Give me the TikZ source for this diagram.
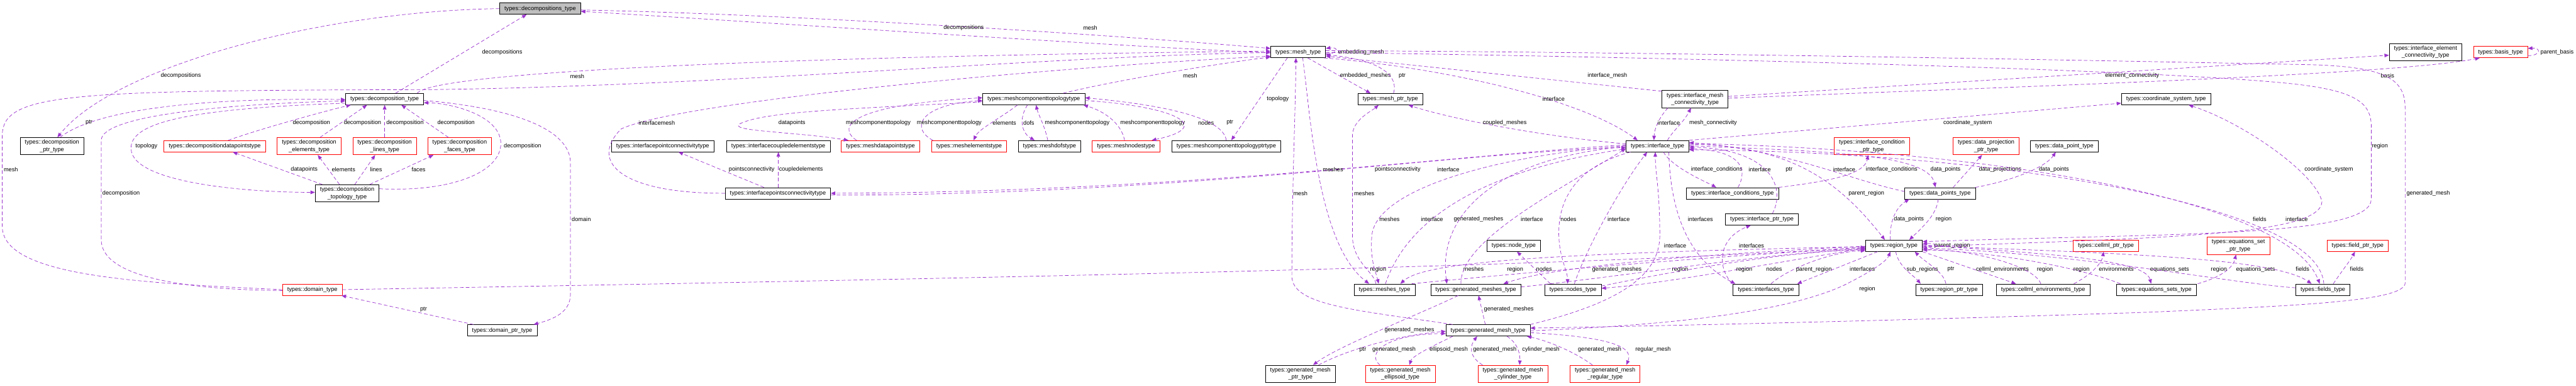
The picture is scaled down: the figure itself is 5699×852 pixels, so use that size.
\documentclass[tikz,border=0pt]{standalone}
\usepackage{fontspec}
\setmainfont{Liberation Sans}
\usetikzlibrary{arrows.meta}
\definecolor{relcol}{RGB}{154,50,205}
\newcommand{\clsfont}{\fontsize{12.8}{16}\selectfont}
\tikzset{
  cls/.style   = {rectangle, draw=black, line width=1pt, fill=white, font=\clsfont,
                  align=center, inner xsep=10.5pt, inner ysep=5pt, minimum height=25pt},
  undoc/.style = {draw=red},
  root/.style  = {fill=black!25},
  rel/.style   = {draw=relcol, line width=1pt, dash pattern=on 8pt off 5pt,
                  -{Triangle[length=10pt,width=8pt]}},
  lbl/.style   = {font=\clsfont, inner sep=0pt},
}

\begin{document}
\begin{tikzpicture}[x=1pt,y=-1pt]
  \useasboundingbox (0,0) rectangle (5699,852);

  % row 1
  \node[cls,root] (dcs) at (1195,19) {types::decompositions\_type};
  \node[cls] (mesh) at (2872,115) {types::mesh\_type};
  \node[cls] (iec) at (5366,115) {types::interface\_element\\\_connectivity\_type};
  \node[cls,undoc] (basis) at (5532,115) {types::basis\_type};
  % row 2
  \node[cls] (dcmp) at (851,219) {types::decomposition\_type};
  \node[cls] (mctt) at (2287,219) {types::meshcomponenttopologytype};
  \node[cls] (mptr) at (3076,219) {types::mesh\_ptr\_type};
  \node[cls] (imc) at (3750,219) {types::interface\_mesh\\\_connectivity\_type};
  \node[cls] (csys) at (4792,219) {types::coordinate\_system\_type};
  % row 3
  \node[cls] (dptr) at (115,323) {types::decomposition\\\_ptr\_type};
  \node[cls,undoc] (ddp) at (475,323) {types::decompositiondatapointstype};
  \node[cls,undoc] (del) at (684,323) {types::decomposition\\\_elements\_type};
  \node[cls,undoc] (dli) at (851,323) {types::decomposition\\\_lines\_type};
  \node[cls,undoc] (dfa) at (1017,323) {types::decomposition\\\_faces\_type};
  \node[cls] (ipc) at (1466,323) {types::interfacepointconnectivitytype};
  \node[cls] (ice) at (1722,323) {types::interfacecoupledelementstype};
  \node[cls,undoc] (mdp) at (1948,323) {types::meshdatapointstype};
  \node[cls,undoc] (mel) at (2144,323) {types::meshelementstype};
  \node[cls] (mdof) at (2322,323) {types::meshdofstype};
  \node[cls,undoc] (mnod) at (2491,323) {types::meshnodestype};
  \node[cls] (mcptr) at (2713,323) {types::meshcomponenttopologyptrtype};
  \node[cls] (iface) at (3667,323) {types::interface\_type};
  \node[cls,undoc] (icptr) at (4141,323) {types::interface\_condition\\\_ptr\_type};
  \node[cls,undoc] (dprj) at (4394,323) {types::data\_projection\\\_ptr\_type};
  \node[cls] (dpt) at (4567,323) {types::data\_point\_type};
  % row 4
  \node[cls] (dtop) at (768,427) {types::decomposition\\\_topology\_type};
  \node[cls] (ipts) at (1721,427) {types::interfacepointsconnectivitytype};
  \node[cls] (iconds) at (3833,427) {types::interface\_conditions\_type};
  \node[cls] (dpts) at (4292,427) {types::data\_points\_type};
  \node[cls] (iptr) at (3898,485) {types::interface\_ptr\_type};
  % row 5
  \node[cls] (node) at (3349,543) {types::node\_type};
  \node[cls] (region) at (4190,543) {types::region\_type};
  \node[cls,undoc] (cptr) at (4659,543) {types::cellml\_ptr\_type};
  \node[cls,undoc] (esptr) at (4952,543) {types::equations\_set\\\_ptr\_type};
  \node[cls,undoc] (fptr) at (5216,543) {types::field\_ptr\_type};
  % row 6
  \node[cls,undoc] (domain) at (691,640) {types::domain\_type};
  \node[cls] (meshes) at (3063,640) {types::meshes\_type};
  \node[cls] (gmeshes) at (3265,640) {types::generated\_meshes\_type};
  \node[cls] (nodes) at (3480,640) {types::nodes\_type};
  \node[cls] (ifaces) at (3907,640) {types::interfaces\_type};
  \node[cls] (rptr) at (4312,640) {types::region\_ptr\_type};
  \node[cls] (cenv) at (4520,640) {types::cellml\_environments\_type};
  \node[cls] (esets) at (4771,640) {types::equations\_sets\_type};
  \node[cls] (fields) at (5139,640) {types::fields\_type};
  % row 7, 8
  \node[cls] (domptr) at (1111,730) {types::domain\_ptr\_type};
  \node[cls] (gmesh) at (3292,730) {types::generated\_mesh\_type};
  \node[cls] (gmptr) at (2877,826) {types::generated\_mesh\\\_ptr\_type};
  \node[cls,undoc] (gell) at (3098,826) {types::generated\_mesh\\\_ellipsoid\_type};
  \node[cls,undoc] (gcyl) at (3347,826) {types::generated\_mesh\\\_cylinder\_type};
  \node[cls,undoc] (greg) at (3551,826) {types::generated\_mesh\\\_regular\_type};

  % decompositions
  \draw[rel] (dcs.west) .. controls (700,25) and (250,150) .. ([xshift=12pt]dptr.north)
    node[lbl,at={(400,167)}] {decompositions};
  \draw[rel] ([yshift=-3pt]dcs.east) .. controls (1700,30) and (2400,72) .. ([yshift=8pt]mesh.west)
    node[lbl,at={(2412,62)}] {mesh};
  \draw[rel] ([yshift=-2pt]mesh.west) .. controls (2400,98) and (1700,50) .. ([yshift=-6pt]dcs.east)
    node[lbl,at={(2132,62)}] {decompositions};
  \draw[rel] ([xshift=18pt]dptr.north) .. controls (200,250) and (400,215) .. ([yshift=-1pt]dcmp.west)
    node[lbl,at={(197,271)}] {ptr};
  \draw[rel] ([xshift=24pt]dcmp.north) -- ([xshift=-30pt]dcs.south)
    node[lbl,at={(1111,115)}] {decompositions};
  \draw[rel] ([xshift=72pt]dcmp.north) .. controls (960,160) and (1700,125) .. ([yshift=2pt]mesh.west)
    node[lbl,at={(1277,168)}] {mesh};
  \draw[rel] (domain.west) .. controls (300,625) and (5,610) .. (5,500) -- (5,300)
    .. controls (5,205) and (150,200) .. (950,198) .. controls (1600,190) and (2300,125) .. ([yshift=-1pt]mesh.west)
    node[lbl,at={(24,375)}] {mesh};
  \draw[rel] ([yshift=-2pt]domain.west) .. controls (400,640) and (224,610) .. (224,530) -- (224,310)
    .. controls (224,255) and (500,230) .. ([yshift=-4pt]dcmp.west)
    node[lbl,at={(268,427)}] {decomposition};
  \draw[rel] ([yshift=-9pt]dcmp.west) .. controls (420,240) and (285,270) .. (290,330)
    .. controls (295,405) and (550,425) .. ([yshift=2pt]dtop.west)
    node[lbl,at={(324,323)}] {topology};

  % decomposition topology
  \draw[rel] ([xshift=-55pt]dtop.north) -- ([xshift=40pt]ddp.south)
    node[lbl,at={(673,375)}] {datapoints};
  \draw[rel] ([xshift=-17pt]dtop.north) -- ([xshift=19pt]del.south)
    node[lbl,at={(760,375)}] {elements};
  \draw[rel] ([xshift=17pt]dtop.north) -- ([xshift=-21pt]dli.south)
    node[lbl,at={(832,375)}] {lines};
  \draw[rel] ([xshift=50pt]dtop.north) -- ([xshift=-58pt]dfa.south)
    node[lbl,at={(926,375)}] {faces};
  \draw[rel] ([xshift=30pt]ddp.north) .. controls (560,290) and (700,250) .. ([xshift=-75pt]dcmp.south)
    node[lbl,at={(689,271)}] {decomposition};
  \draw[rel] ([xshift=24pt]del.north) -- ([xshift=-39pt]dcmp.south)
    node[lbl,at={(802,271)}] {decomposition};
  \draw[rel] (dli.north) -- (dcmp.south)
    node[lbl,at={(896,271)}] {decomposition};
  \draw[rel] ([xshift=-25pt]dfa.north) -- ([xshift=37pt]dcmp.south)
    node[lbl,at={(1009,271)}] {decomposition};
  \draw[rel] ([yshift=10pt]dtop.east) .. controls (1000,425) and (1110,380) .. (1108,315)
    .. controls (1105,255) and (1000,228) .. ([yshift=-8pt]dcmp.east)
    node[lbl,at={(1156,323)}] {decomposition};
  \draw[rel] ([yshift=-3pt]dcmp.east) .. controls (1150,240) and (1262,290) .. (1262,360) -- (1262,650)
    .. controls (1262,690) and (1225,705) .. ([xshift=-8pt]domptr.north east)
    node[lbl,at={(1286,485)}] {domain};
  \draw[rel] ([xshift=14pt]domptr.north west) -- ([xshift=-2pt]domain.south east)
    node[lbl,at={(937,684)}] {ptr};
  \draw[rel] (domain.east) .. controls (2000,618) and (3500,590) .. ([yshift=-3pt]region.west)
    node[lbl,at={(3049,595)}] {region};

  % interface points
  \draw[rel] (ipts.west) .. controls (1380,428) and (1300,360) .. (1374,285)
    .. controls (1500,225) and (2300,150) .. ([yshift=-9pt]mesh.west)
    node[lbl,at={(1453,271)}] {interfacemesh};
  \draw[rel] ([xshift=-31pt]ipts.north) -- ([xshift=35pt]ipc.south)
    node[lbl,at={(1663,375)}] {pointsconnectivity};
  \draw[rel] ([xshift=1pt]ipts.north) -- (ice.south)
    node[lbl,at={(1772,375)}] {coupledelements};
  \draw[rel] ([yshift=3pt]iface.west) .. controls (3200,345) and (2600,425) .. (ipts.east)
    node[lbl,at={(3092,375)}] {pointsconnectivity};
  \draw[rel] ([yshift=-4pt]ipts.east) .. controls (2600,432) and (3250,335) .. ([yshift=-3pt]iface.west)
    node[lbl,at={(3204,375)}] {interface};

  % mesh component topology
  \draw[rel] ([xshift=65pt]mctt.north) .. controls (2480,175) and (2700,140) .. ([yshift=-11pt]mesh.west)
    node[lbl,at={(2633,167)}] {mesh};
  \draw[rel] ([xshift=-24pt]mesh.south) -- ([xshift=11pt]mcptr.north)
    node[lbl,at={(2827,219)}] {topology};
  \draw[rel] ([yshift=-6pt]mctt.west) .. controls (1900,240) and (1700,245) .. (1640,272)
    .. controls (1600,290) and (1750,290) .. ([xshift=-71pt]mdp.north)
    node[lbl,at={(1752,271)}] {datapoints};
  \draw[rel] ([xshift=-53pt]mdp.north) .. controls (1850,280) and (1880,232) .. ([yshift=3pt]mctt.west)
    node[lbl,at={(1943,271)}] {meshcomponenttopology};
  \draw[rel] ([xshift=-80pt]mel.north) .. controls (2015,285) and (2030,232) .. ([yshift=-3pt]mctt.west)
    node[lbl,at={(2100,271)}] {meshcomponenttopology};
  \draw[rel] ([xshift=-36pt]mctt.south) .. controls (2215,260) and (2165,285) .. ([xshift=10pt]mel.north)
    node[lbl,at={(2222,271)}] {elements};
  \draw[rel] ([xshift=-14pt]mctt.south) .. controls (2252,265) and (2262,295) .. ([xshift=-33pt]mdof.north)
    node[lbl,at={(2276,271)}] {dofs};
  \draw[rel] ([xshift=-4pt]mdof.north) .. controls (2312,280) and (2296,250) .. ([xshift=5pt]mctt.south)
    node[lbl,at={(2383,271)}] {meshcomponenttopology};
  \draw[rel] ([xshift=-3pt]mnod.north) .. controls (2480,270) and (2440,245) .. ([xshift=110pt]mctt.south)
    node[lbl,at={(2550,271)}] {meshcomponenttopology};
  \draw[rel] ([yshift=-3pt]mctt.east) .. controls (2600,235) and (2690,280) .. ([xshift=57pt]mnod.north)
    node[lbl,at={(2668,271)}] {nodes};
  \draw[rel] (mcptr.north) .. controls (2705,255) and (2550,230) .. ([yshift=3pt]mctt.east)
    node[lbl,at={(2721,271)}] {ptr};

  % mesh
  \draw[rel] ([yshift=-4pt]mesh.east) .. controls (2962,119) and (2962,103) .. ([yshift=8pt]mesh.east)
    node[lbl,at={(3011,115)}] {embedding\_mesh};
  \draw[rel] ([xshift=21pt]mesh.south) -- ([xshift=-44pt]mptr.north)
    node[lbl,at={(3021,167)}] {embedded\_meshes};
  \draw[rel] ([xshift=7pt]mptr.north) .. controls (3095,165) and (3050,132) .. ([yshift=-6pt]mesh.east)
    node[lbl,at={(3102,167)}] {ptr};
  \draw[rel] ([xshift=57pt]mesh.south) .. controls (3200,150) and (3500,220) .. ([xshift=-44pt]iface.north)
    node[lbl,at={(3437,219)}] {interface};
  \draw[rel] ([yshift=5pt]iface.west) .. controls (3400,300) and (3200,260) .. ([xshift=40pt]mptr.south)
    node[lbl,at={(3329,271)}] {coupled\_meshes};
  \draw[rel] ([yshift=-2pt]imc.north west) -- ([yshift=-9pt]mesh.east)
    node[lbl,at={(3556,167)}] {interface\_mesh};
  \draw[rel] ([xshift=22pt]iface.north) .. controls (3700,290) and (3725,270) .. ([xshift=-9pt]imc.south)
    node[lbl,at={(3790,271)}] {mesh\_connectivity};
  \draw[rel] ([xshift=-60pt]imc.south) .. controls (3670,260) and (3660,285) .. ([xshift=-8pt]iface.north)
    node[lbl,at={(3692,271)}] {interface};
  \draw[rel] ([yshift=6pt]imc.east) -- ([yshift=-7pt]iec.west)
    node[lbl,at={(4717,167)}] {element\_connectivity};
  \draw[rel] ([yshift=2pt]imc.east) .. controls (4500,190) and (5300,165) .. ([xshift=-46pt]basis.south)
    node[lbl,at={(5282,167)}] {basis};
  \draw[rel] ([yshift=-8pt]basis.east) .. controls (5622,123) and (5622,105) .. ([yshift=8pt]basis.east)
    node[lbl,at={(5657,115)}] {parent\_basis};
  \draw[rel] ([yshift=-1pt]mesh.east) .. controls (3600,125) and (4700,150) .. (5050,183)
    .. controls (5210,198) and (5246,225) .. (5246,280) -- (5246,440)
    .. controls (5246,525) and (4800,515) .. ([yshift=9pt]region.east)
    node[lbl,at={(5265,323)}] {region};
  \draw[rel] ([yshift=3pt]mesh.east) .. controls (3700,115) and (4700,135) .. (5114,143)
    .. controls (5280,148) and (5321,175) .. (5321,240) -- (5321,625)
    .. controls (5321,665) and (5100,675) .. (4750,690)
    .. controls (4300,705) and (3800,718) .. ([yshift=5pt]gmesh.east)
    node[lbl,at={(5372,427)}] {generated\_mesh};
  \draw[rel] ([xshift=-78pt]gmesh.north) .. controls (3000,685) and (2858,675) .. (2858,610)
    .. controls (2858,420) and (2866,250) .. ([xshift=-5pt]mesh.south)
    node[lbl,at={(2877,427)}] {mesh};
  \draw[rel] ([xshift=10pt]mesh.south) .. controls (2900,260) and (2915,540) .. ([xshift=-34pt]meshes.north)
    node[lbl,at={(2949,375)}] {meshes};

  % meshes, generated meshes, nodes
  \draw[rel] ([xshift=-19pt]meshes.north) .. controls (3040,600) and (2992,580) .. (2992,520) -- (2992,300)
    .. controls (2992,265) and (3035,245) .. ([xshift=-26pt]mptr.south)
    node[lbl,at={(3018,427)}] {meshes};
  \draw[rel] ([yshift=1pt]iface.west) .. controls (3300,345) and (3045,420) .. (3035,520)
    .. controls (3030,575) and (3045,605) .. ([xshift=-13pt]meshes.north)
    node[lbl,at={(3074,484)}] {meshes};
  \draw[rel] ([xshift=2pt]meshes.north) .. controls (3095,540) and (3190,390) .. ([yshift=-6pt]iface.west)
    node[lbl,at={(3168,484)}] {interface};
  \draw[rel] ([yshift=-2pt]region.west) .. controls (3400,560) and (3150,580) .. ([xshift=35pt]meshes.north)
    node[lbl,at={(3260,595)}] {meshes};
  \draw[rel] ([xshift=-8pt]meshes.north east) .. controls (3400,600) and (3800,565) .. ([yshift=-5pt]region.west)
    node[lbl,at={(3717,595)}] {region};
  \draw[rel] ([yshift=-1pt]iface.west) .. controls (3300,350) and (3180,480) .. ([xshift=-64pt]gmeshes.north)
    node[lbl,at={(3271,484)}] {generated\_meshes};
  \draw[rel] ([xshift=-33pt]gmeshes.north) .. controls (3230,530) and (3450,420) .. ([yshift=-5pt]iface.west)
    node[lbl,at={(3389,484)}] {interface};
  \draw[rel] ([xshift=-6pt]gmesh.north) -- ([xshift=6pt]gmeshes.south)
    node[lbl,at={(3338,684)}] {generated\_meshes};
  \draw[rel] ([yshift=-1pt]region.west) .. controls (3800,560) and (3450,585) .. ([xshift=61pt]gmeshes.north)
    node[lbl,at={(3577,595)}] {generated\_meshes};
  \draw[rel] ([yshift=6pt]gmeshes.east) .. controls (3600,610) and (3900,560) .. ([yshift=-7pt]region.west)
    node[lbl,at={(3352,595)}] {region};
  \draw[rel] ([xshift=-60pt]iface.south) .. controls (3480,370) and (3440,450) .. (3450,540)
    .. controls (3455,580) and (3468,600) .. ([xshift=-12pt]nodes.north)
    node[lbl,at={(3470,484)}] {nodes};
  \draw[rel] ([xshift=3pt]nodes.north) .. controls (3505,560) and (3580,420) .. ([xshift=-23pt]iface.south)
    node[lbl,at={(3581,484)}] {interface};
  \draw[rel] ([xshift=-50pt]nodes.north) -- ([xshift=7pt]node.south)
    node[lbl,at={(3416,595)}] {nodes};
  \draw[rel] ([yshift=-6pt]region.west) .. controls (3950,575) and (3700,625) .. ([yshift=3pt]nodes.east)
    node[lbl,at={(3925,595)}] {nodes};
  \draw[rel] ([yshift=8pt]nodes.east) .. controls (3700,600) and (3950,555) .. ([yshift=-9pt]region.west)
    node[lbl,at={(3859,595)}] {region};

  % interfaces
  \draw[rel] ([xshift=25pt]iface.south) .. controls (3695,460) and (3730,570) .. ([xshift=-68pt]ifaces.north)
    node[lbl,at={(3762,484)}] {interfaces};
  \draw[rel] ([xshift=-75pt]ifaces.north) .. controls (3795,585) and (3805,525) .. ([xshift=-25pt]iptr.south)
    node[lbl,at={(3875,543)}] {interfaces};
  \draw[rel] ([xshift=11pt]ifaces.north) .. controls (3960,590) and (4060,555) .. ([yshift=-11pt]region.west)
    node[lbl,at={(4013,595)}] {parent\_region};
  \draw[rel] ([xshift=-36pt]region.south) -- ([xshift=69pt]ifaces.north)
    node[lbl,at={(4120,595)}] {interfaces};
  \draw[rel] ([xshift=23pt]iptr.north) .. controls (3950,420) and (3925,330) .. ([yshift=-2pt]iface.east)
    node[lbl,at={(3958,375)}] {ptr};
  \draw[rel] ([xshift=13pt]iface.south) .. controls (3700,370) and (3770,400) .. ([xshift=-36pt]iconds.north)
    node[lbl,at={(3798,375)}] {interface\_conditions};
  \draw[rel] ([xshift=12pt]iconds.north) .. controls (3870,370) and (3845,332) .. ([yshift=-6pt]iface.east)
    node[lbl,at={(3893,375)}] {interface};
  \draw[rel] (iconds.north east) .. controls (4050,400) and (4125,385) .. ([xshift=-8pt]icptr.south)
    node[lbl,at={(4185,375)}] {interface\_conditions};
  \draw[rel] ([yshift=4pt]iface.east) .. controls (3970,320) and (4075,410) .. ([xshift=-20pt]region.north)
    node[lbl,at={(4129,427)}] {parent\_region};

  % data points
  \draw[rel] ([yshift=4pt]dpts.west) .. controls (4100,400) and (3950,330) .. ([yshift=8pt]iface.east)
    node[lbl,at={(4080,375)}] {interface};
  \draw[rel] ([yshift=1pt]iface.east) .. controls (4050,335) and (4265,340) .. ([xshift=-10pt]dpts.north)
    node[lbl,at={(4304,375)}] {data\_points};
  \draw[rel] ([xshift=29pt]dpts.north) -- ([xshift=-9pt]dprj.south)
    node[lbl,at={(4425,375)}] {data\_projections};
  \draw[rel] ([xshift=78pt]dpts.north) .. controls (4450,400) and (4525,370) .. ([xshift=-19pt]dpt.south)
    node[lbl,at={(4544,375)}] {data\_points};
  \draw[rel] ([xshift=-8pt]region.north) .. controls (4180,480) and (4200,455) .. ([xshift=-68pt]dpts.south)
    node[lbl,at={(4223,484)}] {data\_points};
  \draw[rel] ([xshift=-4pt]dpts.south) .. controls (4285,475) and (4250,505) .. ([xshift=34pt]region.north)
    node[lbl,at={(4300,484)}] {region};

  % region
  \draw[rel] ([yshift=-4pt]region.east) .. controls (4288,548) and (4288,536) .. ([yshift=4pt]region.east)
    node[lbl,at={(4319,543)}] {parent\_region};
  \draw[rel] ([xshift=4pt]region.south) .. controls (4200,590) and (4235,610) .. ([xshift=-63pt]rptr.north)
    node[lbl,at={(4253,595)}] {sub\_regions};
  \draw[rel] ([xshift=-7pt]rptr.north) .. controls (4300,600) and (4260,580) .. ([xshift=46pt]region.south)
    node[lbl,at={(4316,595)}] {ptr};
  \draw[rel] (region.south east) -- ([xshift=-60pt]cenv.north)
    node[lbl,at={(4430,595)}] {cellml\_environments};
  \draw[rel] ([xshift=-5pt]cenv.north) .. controls (4500,585) and (4350,550) .. ([yshift=-9pt]region.east)
    node[lbl,at={(4524,595)}] {region};
  \draw[rel] ([xshift=68pt]cenv.north) .. controls (4630,605) and (4650,580) .. ([xshift=-5pt]cptr.south)
    node[lbl,at={(4682,595)}] {environments};
  \draw[rel] ([xshift=-80pt]esets.north) .. controls (4600,590) and (4400,555) .. ([yshift=-9pt]region.east)
    node[lbl,at={(4605,595)}] {region};
  \draw[rel] ([yshift=2pt]region.east) .. controls (4500,560) and (4745,570) .. ([xshift=-12pt]esets.north)
    node[lbl,at={(4800,595)}] {equations\_sets};
  \draw[rel] ([xshift=91pt]esets.north) .. controls (4920,610) and (4940,590) .. ([xshift=-5pt]esptr.south)
    node[lbl,at={(4990,595)}] {equations\_sets};
  \draw[rel] ([yshift=4pt]fields.west) .. controls (4930,625) and (4600,560) .. ([yshift=-5pt]region.east)
    node[lbl,at={(4909,595)}] {region};
  \draw[rel] (region.east) .. controls (4700,560) and (5030,570) .. ([xshift=-25pt]fields.north)
    node[lbl,at={(5094,595)}] {fields};
  \draw[rel] ([xshift=23pt]fields.north) .. controls (5180,600) and (5200,575) .. ([xshift=-6pt]fptr.south)
    node[lbl,at={(5214,595)}] {fields};
  \draw[rel] ([yshift=6pt]iface.east) .. controls (4400,330) and (5060,440) .. ([xshift=-7pt]fields.north)
    node[lbl,at={(4999,484)}] {fields};
  \draw[rel] ([xshift=2pt]fields.north) .. controls (5130,450) and (4400,335) .. ([yshift=-8pt]iface.east)
    node[lbl,at={(5081,484)}] {interface};
  \draw[rel] ([yshift=-2pt]region.east) .. controls (4800,525) and (5135,520) .. (5137,445)
    .. controls (5120,380) and (4960,270) .. ([xshift=50pt]csys.south)
    node[lbl,at={(5152,375)}] {coordinate\_system};
  \draw[rel] (iface.north east) -- ([yshift=-9pt]csys.west)
    node[lbl,at={(4353,271)}] {coordinate\_system};

  % generated mesh
  \draw[rel] ([xshift=-39pt]gmeshes.south) .. controls (3150,690) and (2960,765) .. ([xshift=28pt]gmptr.north)
    node[lbl,at={(3118,729)}] {generated\_meshes};
  \draw[rel] ([xshift=40pt]gmptr.north) .. controls (2985,770) and (3100,740) .. ([yshift=-2pt]gmesh.west)
    node[lbl,at={(3015,773)}] {ptr};
  \draw[rel] ([xshift=-45pt]gell.north) .. controls (3020,780) and (3070,738) .. ([yshift=-7pt]gmesh.west)
    node[lbl,at={(3084,773)}] {generated\_mesh};
  \draw[rel] ([xshift=-78pt]gmesh.south) .. controls (3180,760) and (3125,785) .. ([xshift=20pt]gell.north)
    node[lbl,at={(3205,773)}] {ellipsoid\_mesh};
  \draw[rel] ([xshift=-67pt]gcyl.north) .. controls (3245,785) and (3255,760) .. ([xshift=-24pt]gmesh.south)
    node[lbl,at={(3307,773)}] {generated\_mesh};
  \draw[rel] ([xshift=42pt]gmesh.south) .. controls (3360,760) and (3363,785) .. ([xshift=15pt]gcyl.north)
    node[lbl,at={(3409,773)}] {cylinder\_mesh};
  \draw[rel] ([xshift=-28pt]greg.north) .. controls (3480,775) and (3420,752) .. ([xshift=86pt]gmesh.south)
    node[lbl,at={(3539,773)}] {generated\_mesh};
  \draw[rel] ([yshift=-5pt]gmesh.east) .. controls (3560,745) and (3615,765) .. ([xshift=47pt]greg.north)
    node[lbl,at={(3657,773)}] {regular\_mesh};
  \draw[rel] (gmesh.north east) .. controls (3580,670) and (3672,610) .. (3672,520)
    .. controls (3672,420) and (3662,380) .. ([xshift=-5pt]iface.south)
    node[lbl,at={(3706,543)}] {interface};
  \draw[rel] ([yshift=-1pt]gmesh.east) .. controls (3700,718) and (3950,690) .. (4080,630)
    .. controls (4150,595) and (4175,575) .. ([xshift=-8pt]region.south)
    node[lbl,at={(4131,639)}] {region};
\end{tikzpicture}
\end{document}
